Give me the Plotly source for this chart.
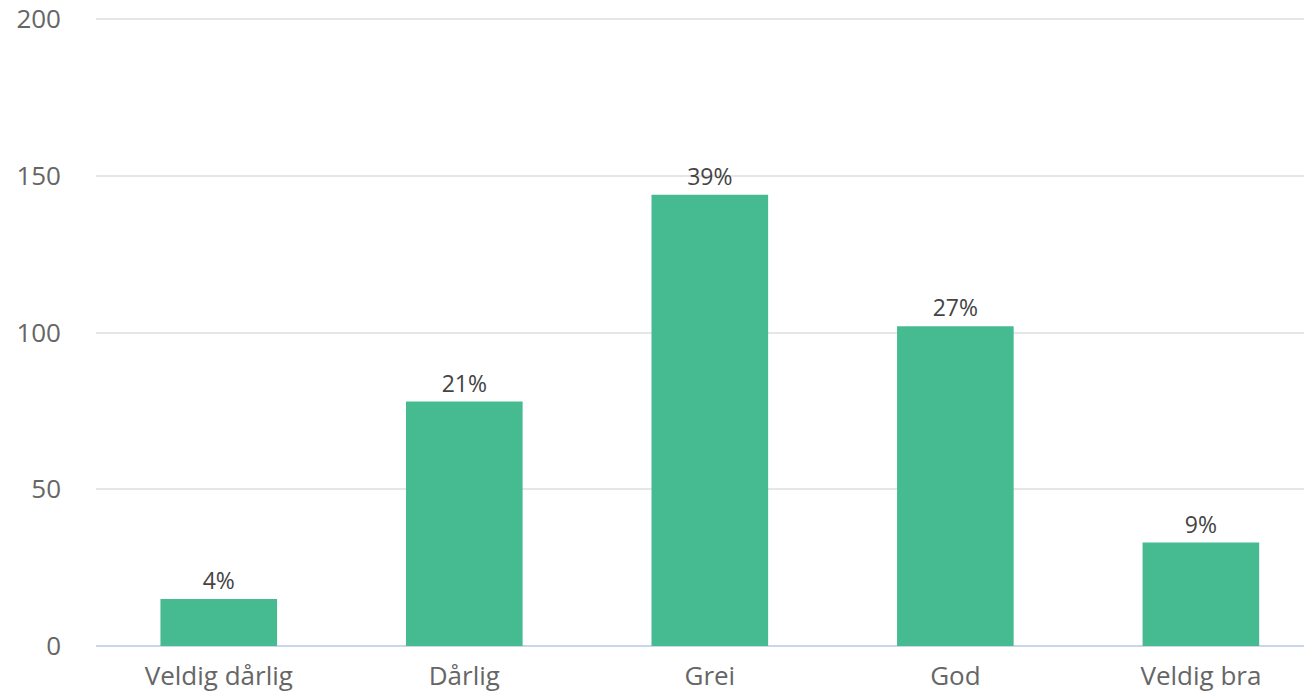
import plotly.graph_objects as go

categories = ["Veldig dårlig", "Dårlig", "Grei", "God", "Veldig bra"]
counts = [15, 78, 144, 102, 33]
pct_labels = ["4%", "21%", "39%", "27%", "9%"]
y_ticks = [0, 50, 100, 150, 200]

FONT = "'Open Sans', 'DejaVu Sans', sans-serif"

fig = go.Figure(
    go.Bar(
        x=categories,
        y=counts,
        text=pct_labels,
        textposition="outside",
        textfont=dict(family=FONT, size=23, color="#444444"),
        cliponaxis=False,
        marker=dict(color="#46BB91", line=dict(width=0)),
        width=0.475,
    )
)

fig.update_layout(
    width=1304,
    height=693,
    margin=dict(l=96, r=0, t=18, b=47, autoexpand=False),
    paper_bgcolor="white",
    plot_bgcolor="white",
    showlegend=False,
    font=dict(family=FONT, size=23, color="#666666"),
    xaxis=dict(
        range=[-0.5, 4.42],
        showgrid=False,
        showline=False,
        ticks="",
        tickfont=dict(family=FONT, size=26, color="#666666"),
        ticklabelstandoff=12,
        ticklabeloverflow="allow",
        automargin=False,
    ),
    yaxis=dict(
        range=[0, 200.4],
        tickvals=y_ticks,
        showgrid=True,
        gridcolor="#e6e6e6",
        gridwidth=1.5,
        zeroline=True,
        zerolinecolor="#ccd6eb",
        zerolinewidth=1.5,
        showline=False,
        ticks="",
        tickfont=dict(family=FONT, size=26, color="#666666"),
        ticklabelstandoff=34,
        ticklabeloverflow="allow",
        automargin=False,
    ),
)

fig.write_html(
    "out.html",
    config={"displayModeBar": False},
    post_script="document.body.style.margin='0';document.body.style.overflow='hidden';",
)
